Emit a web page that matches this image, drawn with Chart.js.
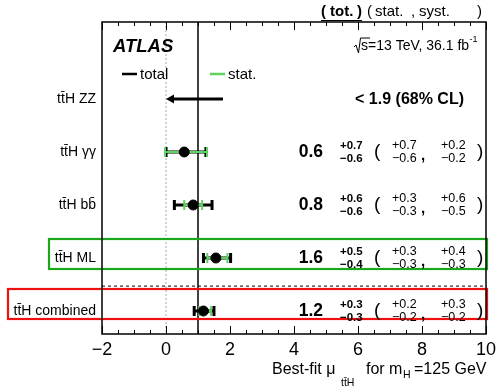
<!DOCTYPE html>
<html>
<head>
<meta charset="utf-8">
<script src="https://cdn.jsdelivr.net/npm/chart.js@4.4.1/dist/chart.umd.min.js"></script>
<style>
  body { margin: 0; background: #fff; }
  #wrap { width: 496px; height: 388px; }
</style>
</head>
<body>
<div id="wrap"><canvas id="muPlot" width="496" height="388"></canvas></div>
<script>
// rows from top to bottom
const rows = ['tt\u0304H ZZ', 'tt\u0304H \u03b3\u03b3', 'tt\u0304H bb\u0304', 'tt\u0304H ML', 'tt\u0304H combined'];
const central = [null, 0.57, 0.85, 1.56, 1.17];
const totLo = [0.0, -0.03, 0.23, 1.14, 0.85];
const totHi = [1.78, 1.28, 1.47, 2.05, 1.53];
const statLo = [null, -0.03, 0.57, 1.29, 1.04];
const statHi = [null, 1.28, 1.13, 1.92, 1.41];

// printed numbers
const muText = [null, '0.6', '0.8', '1.6', '1.2'];
const totUp = [null, '+0.7', '+0.6', '+0.5', '+0.3'];
const totDn = [null, '\u22120.6', '\u22120.6', '\u22120.4', '\u22120.3'];
const statUp = [null, '+0.7', '+0.3', '+0.3', '+0.2'];
const statDn = [null, '\u22120.6', '\u22120.3', '\u22120.3', '\u22120.2'];
const systUp = [null, '+0.2', '+0.6', '+0.4', '+0.3'];
const systDn = [null, '\u22120.2', '\u22120.5', '\u22120.3', '\u22120.2'];
const limitText = '< 1.9 (68% CL)';

const xTicks = [-2, 0, 2, 4, 6, 8, 10];

const FONT = '"Liberation Sans", Arial, Helvetica, sans-serif';
const statGreen = '#5fd35f';
const yOf = i => rows.length - 1 - i;

const points = [];
central.forEach((v, i) => { if (v !== null) points.push({ x: v, y: yOf(i) }); });

function txt(ctx, s, x, y, size, opts) {
  opts = opts || {};
  ctx.font = (opts.style || '') + ' ' + size + 'px ' + FONT;
  ctx.textAlign = opts.align || 'left';
  ctx.textBaseline = 'middle';
  ctx.fillStyle = opts.color || '#000';
  ctx.fillText(s, x, y);
  return ctx.measureText(s).width;
}

const atlasPlugin = {
  id: 'atlasPlugin',
  beforeDatasetsDraw(chart) {
    const ctx = chart.ctx;
    const xs = chart.scales.x, ys = chart.scales.y;
    const a = chart.chartArea;
    ctx.save();

    // dotted line at mu = 0
    ctx.strokeStyle = '#aaa';
    ctx.lineWidth = 1;
    ctx.setLineDash([2, 2]);
    ctx.beginPath();
    ctx.moveTo(xs.getPixelForValue(0), a.top);
    ctx.lineTo(xs.getPixelForValue(0), a.bottom);
    ctx.stroke();

    // dashed separator above combined
    ctx.strokeStyle = '#000';
    ctx.setLineDash([3, 3]);
    ctx.beginPath();
    ctx.moveTo(a.left, ys.getPixelForValue(0.47));
    ctx.lineTo(a.right, ys.getPixelForValue(0.47));
    ctx.stroke();
    ctx.setLineDash([]);

    // SM line at mu = 1
    ctx.lineWidth = 1.5;
    ctx.beginPath();
    ctx.moveTo(xs.getPixelForValue(1), a.top);
    ctx.lineTo(xs.getPixelForValue(1), a.bottom);
    ctx.stroke();

    // highlight boxes
    const mlY = ys.getPixelForValue(yOf(3));
    ctx.strokeStyle = '#1aa81a';
    ctx.lineWidth = 2.2;
    ctx.strokeRect(49, mlY - 19, a.right + 1 - 49, 30);
    const cbY = ys.getPixelForValue(yOf(4));
    ctx.strokeStyle = '#f01010';
    ctx.strokeRect(8, cbY - 22, a.right + 1 - 8, 30);

    // error bars
    rows.forEach((r, i) => {
      const py = ys.getPixelForValue(yOf(i));
      if (central[i] === null) {
        // upper limit arrow
        const x1 = xs.getPixelForValue(totHi[i]);
        const x0 = xs.getPixelForValue(totLo[i]);
        ctx.strokeStyle = '#000';
        ctx.lineWidth = 3;
        ctx.beginPath();
        ctx.moveTo(x1, py);
        ctx.lineTo(x0 + 6, py);
        ctx.stroke();
        ctx.fillStyle = '#000';
        ctx.beginPath();
        ctx.moveTo(x0, py);
        ctx.lineTo(x0 + 8, py - 4.5);
        ctx.lineTo(x0 + 8, py + 4.5);
        ctx.closePath();
        ctx.fill();
        return;
      }
      const tl = xs.getPixelForValue(totLo[i]), th = xs.getPixelForValue(totHi[i]);
      ctx.strokeStyle = '#000';
      ctx.lineWidth = 3;
      ctx.beginPath();
      ctx.moveTo(tl, py); ctx.lineTo(th, py);
      ctx.moveTo(tl + 1, py - 5); ctx.lineTo(tl + 1, py + 5);
      ctx.moveTo(th - 1, py - 5); ctx.lineTo(th - 1, py + 5);
      ctx.stroke();
      const sl = xs.getPixelForValue(statLo[i]), sh = xs.getPixelForValue(statHi[i]);
      ctx.strokeStyle = statGreen;
      ctx.lineWidth = 2;
      ctx.beginPath();
      ctx.moveTo(sl, py); ctx.lineTo(sh, py);
      ctx.moveTo(sl, py - 5); ctx.lineTo(sl, py + 5);
      ctx.moveTo(sh, py - 5); ctx.lineTo(sh, py + 5);
      ctx.stroke();
    });
    ctx.restore();
  },
  afterDraw(chart) {
    const ctx = chart.ctx;
    const xs = chart.scales.x, ys = chart.scales.y;
    const a = chart.chartArea;
    ctx.save();

    // frame and inward ticks (top and bottom)
    ctx.strokeStyle = '#000';
    ctx.lineWidth = 1.5;
    ctx.strokeRect(a.left, a.top, a.right - a.left, a.bottom - a.top);
    ctx.lineWidth = 1;
    ctx.beginPath();
    for (let v = -2; v <= 10.001; v += 0.5) {
      const px = Math.round(xs.getPixelForValue(v)) + 0.5;
      const len = (Math.abs(v % 2) < 1e-6) ? 8 : 4;
      ctx.moveTo(px, a.bottom); ctx.lineTo(px, a.bottom - len);
      ctx.moveTo(px, a.top); ctx.lineTo(px, a.top + len);
    }
    ctx.stroke();

    // header
    txt(ctx, '(', 321, 12, 15, { style: 'bold' });
    txt(ctx, 'tot.', 330, 12, 15, { style: 'bold' });
    txt(ctx, ')', 357, 12, 15, { style: 'bold' });
    ctx.lineWidth = 1;
    ctx.beginPath(); ctx.moveTo(321, 20.5); ctx.lineTo(362, 20.5); ctx.stroke();
    txt(ctx, '(', 367, 12, 15);
    txt(ctx, 'stat.', 375, 12, 15);
    txt(ctx, ',', 411, 12, 15);
    txt(ctx, 'syst.', 419, 12, 15);
    txt(ctx, ')', 477, 12, 15);

    txt(ctx, 'ATLAS', 113, 47, 18.5, { style: 'italic bold' });
    // sqrt(s)
    let x = 354;
    txt(ctx, 's=13 TeV, 36.1 fb', x + 7, 46, 14);
    let w = ctx.measureText('s=13 TeV, 36.1 fb').width;
    txt(ctx, '-1', x + 7 + w + 0.5, 40, 9);
    ctx.lineWidth = 1;
    ctx.beginPath();
    ctx.moveTo(x, 47); ctx.lineTo(x + 2, 45); ctx.lineTo(x + 4.5, 53); ctx.lineTo(x + 6.5, 38); ctx.lineTo(x + 16, 38);
    ctx.stroke();

    // legend
    ctx.lineWidth = 2.5;
    ctx.strokeStyle = '#000';
    ctx.beginPath(); ctx.moveTo(122, 74); ctx.lineTo(137, 74); ctx.stroke();
    txt(ctx, 'total', 140, 75, 15);
    ctx.strokeStyle = statGreen;
    ctx.beginPath(); ctx.moveTo(210, 74); ctx.lineTo(225, 74); ctx.stroke();
    txt(ctx, 'stat.', 228, 75, 15);

    // values per row
    rows.forEach((r, i) => {
      const py = ys.getPixelForValue(yOf(i));
      if (central[i] === null) {
        txt(ctx, limitText, 464, py + 1, 16, { style: 'bold', align: 'right' });
        return;
      }
      txt(ctx, muText[i], 323, py + 0.5, 17.5, { style: 'bold', align: 'right' });
      txt(ctx, totUp[i], 340, py - 6.5, 11.5, { style: 'bold' });
      txt(ctx, totDn[i], 340, py + 6.5, 11.5, { style: 'bold' });
      txt(ctx, '(', 374, py, 19);
      txt(ctx, statUp[i], 392, py - 6.5, 12.5);
      txt(ctx, statDn[i], 392, py + 6.5, 12.5);
      txt(ctx, ',', 421, py + 4, 15, { style: 'bold' });
      txt(ctx, systUp[i], 441, py - 6.5, 12.5);
      txt(ctx, systDn[i], 441, py + 6.5, 12.5);
      txt(ctx, ')', 477, py, 19);
    });

    // x title
    txt(ctx, 'Best-fit \u03bc', 272, 370, 16);
    txt(ctx, 'tt\u0304H', 341, 383, 10.5);
    txt(ctx, 'for m', 366, 370, 16);
    txt(ctx, 'H', 403, 375, 10.5);
    txt(ctx, '=125 GeV', 414, 370, 16);
    ctx.restore();
  }
};

new Chart(document.getElementById('muPlot'), {
  type: 'scatter',
  data: {
    datasets: [{
      data: points,
      backgroundColor: '#000',
      borderColor: '#000',
      pointRadius: 5,
      pointHoverRadius: 5
    }]
  },
  options: {
    responsive: false,
    animation: false,
    events: [],
    layout: { padding: { left: 0, right: 10, top: 22, bottom: 0 } },
    plugins: { legend: { display: false }, tooltip: { enabled: false } },
    scales: {
      x: {
        type: 'linear',
        min: -2, max: 10,
        afterBuildTicks: s => { s.ticks = xTicks.map(v => ({ value: v })); },
        afterFit: s => { s.height = 54; s.paddingLeft = 0; s.paddingRight = 0; },
        grid: { display: false, drawTicks: false },
        border: { display: false },
        ticks: {
          padding: 5,
          color: '#000',
          font: { family: FONT, size: 18 },
          maxRotation: 0,
          callback: v => (v < 0 ? '\u2212' + Math.abs(v) : String(v))
        }
      },
      y: {
        type: 'linear',
        min: -0.434, max: 5.453,
        afterBuildTicks: s => { s.ticks = rows.map((r, i) => ({ value: yOf(i) })); },
        afterFit: s => { s.width = 102; s.paddingTop = 0; s.paddingBottom = 0; },
        grid: { display: false, drawTicks: false },
        border: { display: false },
        ticks: {
          padding: 6,
          color: '#000',
          font: { family: FONT, size: 14 },
          callback: v => rows[rows.length - 1 - v]
        }
      }
    }
  },
  plugins: [atlasPlugin]
});
</script>
</body>
</html>
